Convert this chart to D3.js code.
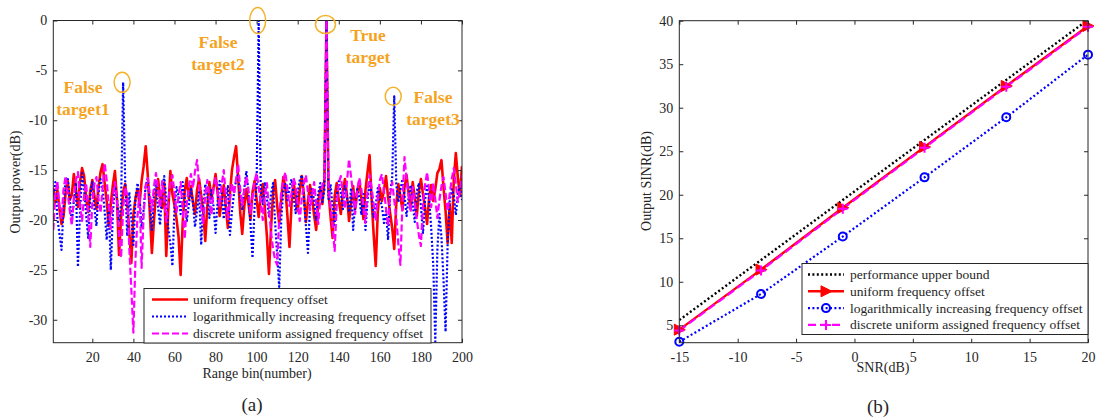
<!DOCTYPE html>
<html>
<head>
<meta charset="utf-8">
<script src="https://cdn.jsdelivr.net/npm/d3@7"></script>
<style>
  body { margin: 0; background: #fff; }
  svg text { font-family: "Liberation Serif", "Times New Roman", serif; fill: #262626; }
</style>
</head>
<body>
<div id="plot"></div>
<script>
// ---- panel (a): output power per range bin ----
const rangeBins = d3.range(1, 201);

const uniformPower = [
  -16.8, -18.2, -17.0, -18.9, -20.4, -19.6, -17.3, -16.1, -18.0, -17.5,
  -15.4, -16.9, -18.7, -16.2, -14.8, -15.6, -17.8, -19.2, -17.1, -16.0,
  -17.6, -18.9, -16.7, -15.2, -14.4, -16.3, -18.1, -20.6, -18.4, -16.5,
  -15.1, -17.9, -23.5, -19.8, -17.2, -16.4, -18.3, -21.2, -24.3, -19.5,
  -17.8, -16.9, -18.4, -16.1, -14.6, -12.6, -15.5, -19.3, -23.3, -20.1,
  -17.4, -15.9, -17.6, -18.8, -16.3, -23.6, -19.0, -15.1, -17.4, -18.5,
  -19.9, -21.7, -25.5, -20.3, -17.1, -15.8, -17.9, -16.6, -18.2, -19.4,
  -17.0, -15.9, -17.5, -19.1, -22.1, -18.6, -16.2, -17.8, -16.8, -15.4,
  -17.3, -19.6, -18.0, -16.5, -18.7, -20.8, -17.4, -15.0, -13.7, -12.6,
  -15.8, -19.2, -21.4, -18.6, -16.9, -18.3, -20.0, -17.2, -16.1, -17.9,
  -19.7, -17.6, -16.4, -18.8, -21.6, -25.4, -20.9, -17.3, -16.0, -18.5,
  -20.3, -17.9, -15.7, -16.8, -19.6, -22.7, -18.4, -16.2, -17.7, -19.1,
  -17.0, -15.6, -17.4, -20.2, -18.1, -16.5, -17.8, -19.5, -21.0, -18.2,
  -16.9, -18.4, -16.0, 0, -17.2, -19.7, -21.8, -17.6, -16.3, -18.0,
  -19.4, -17.1, -15.9, -17.5, -20.1, -18.3, -16.6, -18.9, -17.2, -16.1,
  -17.8, -19.9, -17.0, -15.2, -13.5, -17.9, -21.5, -24.6, -19.2, -16.8,
  -18.1, -17.0, -15.6, -17.7, -19.3, -20.8, -22.9, -18.4, -16.4, -17.6,
  -19.0, -16.8, -15.5, -17.3, -18.9, -16.2, -17.8, -19.6, -17.1, -15.9,
  -17.4, -18.8, -20.4, -17.7, -16.5, -18.1, -16.9, -15.3, -14.9, -14.0,
  -16.7, -19.1, -22.3, -18.4, -22.3, -16.0, -13.3, -15.8, -17.6, -14.6
];

const logPower = [
  -17.5, -16.2, -19.8, -21.4, -23.0, -18.6, -16.0, -15.7, -17.9, -20.3,
  -18.1, -16.4, -24.7, -19.2, -15.3, -17.0, -19.5, -21.8, -17.6, -16.2,
  -18.8, -20.6, -17.3, -15.9, -16.8, -19.1, -22.0, -18.3, -25.0, -19.4,
  -16.6, -17.8, -20.2, -18.4, -6.2, -16.1, -21.6, -17.2, -19.9, -22.5,
  -18.0, -16.3, -17.7, -20.8, -18.9, -16.5, -15.9, -18.2, -21.0, -17.4,
  -16.0, -18.7, -20.5, -17.1, -15.6, -17.9, -20.9, -22.3, -24.6, -18.8,
  -16.7, -17.6, -19.4, -16.2, -17.8, -20.1, -18.5, -16.9, -18.3, -20.7,
  -19.0, -17.2, -22.5, -18.6, -16.4, -17.5, -19.8, -17.0, -18.6, -21.3,
  -18.2, -16.1, -17.4, -19.9, -18.0, -16.6, -21.5, -19.1, -17.3, -16.0,
  -15.4, -17.7, -18.9, -16.8, -15.1, -17.2, -20.4, -23.8, -18.7, -16.5,
  0, -17.0, -18.4, -16.2, -17.9, -19.6, -17.4, -16.3, -20.2, -23.5,
  -26.7, -19.8, -17.1, -16.4, -18.0, -16.8, -15.9, -17.6, -19.3, -17.2,
  -16.0, -15.5, -17.8, -20.6, -23.3, -18.5, -16.7, -18.1, -20.0, -17.4,
  -16.3, -18.2, -17.0, 0, -17.9, -16.4, -18.8, -20.5, -17.6, -16.1,
  -17.3, -18.9, -16.6, -17.7, -19.2, -16.8, -21.0, -18.3, -16.9, -17.8,
  -19.5, -17.2, -21.0, -18.0, -16.2, -17.4, -19.7, -18.5, -16.8, -17.9,
  -18.6, -20.3, -19.1, -22.0, -17.3, -15.8, -7.6, -16.4, -18.2, -17.0,
  -15.9, -17.5, -19.6, -17.8, -16.5, -18.4, -20.2, -17.1, -16.3, -18.7,
  -21.3, -18.0, -16.6, -17.9, -20.8, -24.5, -32.2, -23.0, -19.4, -21.7,
  -26.0, -31.2, -22.4, -18.1, -16.9, -17.6, -19.5, -17.3, -16.5, -18.0
];

const discretePower = [
  -21.0, -17.4, -16.1, -18.6, -19.8, -16.9, -15.6, -17.3, -19.0, -20.5,
  -17.8, -16.0, -15.2, -18.4, -20.1, -17.5, -16.3, -19.6, -22.7, -18.2,
  -16.4, -15.7, -17.9, -19.3, -16.8, -14.3, -16.0, -18.5, -20.9, -17.6,
  -16.2, -18.0, -21.4, -23.8, -18.9, -16.7, -17.5, -22.8, -27.0, -31.3,
  -24.0, -19.6, -17.2, -24.8, -19.4, -16.5, -15.8, -17.4, -19.1, -16.6,
  -15.3, -17.0, -18.8, -16.1, -17.7, -20.2, -18.0, -16.4, -15.5, -17.3,
  -19.2, -17.6, -16.2, -18.9, -21.9, -18.3, -16.7, -15.4, -16.8, -15.1,
  -14.0, -16.5, -18.7, -20.4, -17.5, -16.0, -17.8, -19.5, -16.9, -15.7,
  -17.1, -18.6, -16.4, -15.0, -17.6, -19.9, -18.1, -16.3, -17.4, -15.9,
  -14.4, -16.8, -18.5, -17.0, -15.6, -16.9, -19.3, -17.7, -16.1, -15.3,
  -16.7, -18.2, -20.0, -17.5, -16.3, -18.8, -21.2, -22.9, -24.0, -24.5,
  -19.8, -17.1, -16.0, -15.2, -16.9, -18.6, -17.3, -15.8, -16.5, -18.4,
  -20.1, -17.8, -16.4, -15.5, -17.2, -19.0, -17.6, -16.2, -18.3, -20.4,
  -17.9, -16.5, -15.8, 0, -16.6, -18.7, -20.6, -23.1, -18.5, -16.3,
  -15.6, -17.4, -18.9, -16.1, -13.9, -15.7, -17.5, -19.4, -17.0, -15.8,
  -16.9, -18.6, -20.3, -17.2, -15.5, -16.8, -18.4, -20.1, -17.7, -16.0,
  -15.4, -17.1, -18.8, -20.6, -17.5, -16.2, -18.0, -19.7, -22.4, -24.5,
  -18.3, -13.7, -15.9, -17.6, -19.2, -16.7, -18.1, -20.0, -21.5, -22.6,
  -18.4, -16.5, -15.2, -17.0, -18.7, -16.3, -17.9, -19.8, -18.0, -16.6,
  -15.7, -17.3, -19.1, -17.4, -15.9, -14.8, -16.4, -18.2, -17.0, -15.5
];

const binTicks = [20, 40, 60, 80, 100, 120, 140, 160, 180, 200];
const powerTicks = [0, -5, -10, -15, -20, -25, -30];

// ---- panel (b): output SINR vs SNR ----
const snrValues = [-15, -8, -1, 6, 13, 20];
const upperBound = [5.6, 12.5, 19.4, 26.3, 33.2, 40.1];
const uniformSinr = [4.5, 11.4, 18.5, 25.5, 32.5, 39.4];
const logSinr = [3.1, 8.6, 15.2, 22.0, 28.9, 36.1];
const discreteSinr = [4.4, 11.3, 18.4, 25.4, 32.4, 39.3];

const snrTicks = [-15, -10, -5, 0, 5, 10, 15, 20];
const sinrTicks = [5, 10, 15, 20, 25, 30, 35, 40];

const legendA = [
  "uniform frequency offset",
  "logarithmically increasing frequency offset",
  "discrete uniform assigned frequency offset"
];
const legendB = ["performance upper bound"].concat(legendA);

const ink = "#262626";
const orange = "#f5a31e";
const serif = "Liberation Serif";

const svg = d3.select("#plot")
  .append("svg")
  .attr("width", 1097)
  .attr("height", 420);

function drawFrame(x, y, xTicks, yTicks, id) {
  const [x0, x1] = x.range();
  const [y0, y1] = y.range();

  svg.append("clipPath").attr("id", id)
    .append("rect")
    .attr("x", x0).attr("y", y1)
    .attr("width", x1 - x0).attr("height", y0 - y1);

  const styleAxis = g => {
    g.select(".domain").remove();
    g.attr("font-family", serif).attr("font-size", 14);
    g.selectAll("line").attr("stroke", ink);
    g.selectAll("text").attr("fill", ink);
  };
  const plain = d => String(d);

  svg.append("g")
    .attr("transform", `translate(0,${y0})`)
    .call(d3.axisBottom(x).tickValues(xTicks).tickFormat(plain)
      .tickSizeInner(-4).tickSizeOuter(0).tickPadding(9))
    .call(styleAxis);
  svg.append("g")
    .attr("transform", `translate(0,${y1})`)
    .call(d3.axisTop(x).tickValues(xTicks).tickSizeInner(-4).tickSizeOuter(0).tickFormat(""))
    .call(styleAxis);
  svg.append("g")
    .attr("transform", `translate(${x0},0)`)
    .call(d3.axisLeft(y).tickValues(yTicks).tickFormat(plain)
      .tickSizeInner(-4).tickSizeOuter(0).tickPadding(6))
    .call(styleAxis);
  svg.append("g")
    .attr("transform", `translate(${x1},0)`)
    .call(d3.axisRight(y).tickValues(yTicks).tickSizeInner(-4).tickSizeOuter(0).tickFormat(""))
    .call(styleAxis);

  svg.append("rect")
    .attr("x", x0).attr("y", y1)
    .attr("width", x1 - x0).attr("height", y0 - y1)
    .attr("fill", "none")
    .attr("stroke", ink)
    .attr("stroke-width", 1);
}

// ================= panel (a) =================
const xA = d3.scaleLinear().domain([1, 200]).range([53.3, 462]);
const yA = d3.scaleLinear().domain([-32.3, 0]).range([342.7, 20.5]);

const seriesA = [
  {values: uniformPower, color: "#ff0000", width: 2.6, dash: null},
  {values: logPower, color: "#0000ff", width: 2.2, dash: "2,2"},
  {values: discretePower, color: "#ff00ff", width: 2.2, dash: "7,3"}
];

const lineA = d3.line()
  .x((d, i) => xA(rangeBins[i]))
  .y(d => yA(d));

const plotA = svg.append("g").attr("clip-path", "url(#clipA)");
seriesA.forEach(s => {
  plotA.append("path")
    .datum(s.values)
    .attr("d", lineA)
    .attr("fill", "none")
    .attr("stroke", s.color)
    .attr("stroke-width", s.width)
    .attr("stroke-dasharray", s.dash)
    .attr("stroke-linejoin", "round");
});

drawFrame(xA, yA, binTicks, powerTicks, "clipA");

// annotations
const circlesA = [
  {bin: 35, db: -6.2, rx: 8, ry: 10},
  {bin: 101, db: 0, rx: 8, ry: 13},
  {bin: 134, db: -0.4, rx: 10, ry: 9},
  {bin: 167, db: -7.6, rx: 8, ry: 9}
];
svg.selectAll(".target-ring")
  .data(circlesA)
  .enter().append("ellipse")
  .attr("class", "target-ring")
  .attr("cx", d => xA(d.bin) - 1)
  .attr("cy", d => yA(d.db))
  .attr("rx", d => d.rx)
  .attr("ry", d => d.ry)
  .attr("fill", "none")
  .attr("stroke", "#f4b32c")
  .attr("stroke-width", 1.5);

const notes = [
  {lines: ["False", "target1"], x: 83, y: 93},
  {lines: ["False", "target2"], x: 218, y: 48},
  {lines: ["True", "target"], x: 368, y: 41},
  {lines: ["False", "target3"], x: 433, y: 103}
];
notes.forEach(n => {
  const t = svg.append("text")
    .attr("text-anchor", "middle")
    .attr("font-weight", "bold")
    .attr("font-size", 17.5)
    .style("fill", orange);
  n.lines.forEach((l, i) => {
    t.append("tspan").attr("x", n.x).attr("y", n.y + i * 22).text(l);
  });
});

// legend (a)
const legA = svg.append("g");
legA.append("rect")
  .attr("x", 144).attr("y", 288.5)
  .attr("width", 287).attr("height", 54.5)
  .attr("fill", "#fff").attr("stroke", ink).attr("stroke-width", 1);
seriesA.forEach((s, i) => {
  const yy = 299.5 + i * 17;
  legA.append("line")
    .attr("x1", 152).attr("x2", 188).attr("y1", yy).attr("y2", yy)
    .attr("stroke", s.color).attr("stroke-width", s.width)
    .attr("stroke-dasharray", s.dash);
  legA.append("text")
    .attr("x", 193).attr("y", yy + 4.5)
    .attr("font-size", 13.5)
    .text(legendA[i]);
});

svg.append("text")
  .attr("x", 257).attr("y", 378)
  .attr("text-anchor", "middle").attr("font-size", 14)
  .text("Range bin(number)");
svg.append("text")
  .attr("transform", "translate(20,182) rotate(-90)")
  .attr("text-anchor", "middle").attr("font-size", 14)
  .text("Output power(dB)");
svg.append("text")
  .attr("x", 252).attr("y", 411)
  .attr("text-anchor", "middle").attr("font-size", 19)
  .text("(a)");

// ================= panel (b) =================
const xB = d3.scaleLinear().domain([-15, 20]).range([679.3, 1088]);
const yB = d3.scaleLinear().domain([3, 40]).range([342.7, 20.7]);

const triRight = "M-5,-5.5L6,0L-5,5.5Z";

const seriesB = [
  {values: upperBound, color: "#000000", width: 2.4, dash: "2,2.4", marker: null},
  {values: uniformSinr, color: "#ff0000", width: 2.4, dash: null, marker: "tri"},
  {values: logSinr, color: "#0000ff", width: 2.2, dash: "2,2.4", marker: "circle"},
  {values: discreteSinr, color: "#ff00ff", width: 2.2, dash: "8,4", marker: "plus"}
];

function drawMarker(g, type, color, cx, cy) {
  if (type === "tri") {
    g.append("path").attr("d", triRight)
      .attr("transform", `translate(${cx},${cy})`)
      .attr("fill", color).attr("stroke", color).attr("stroke-width", 1);
  } else if (type === "circle") {
    g.append("circle").attr("cx", cx).attr("cy", cy).attr("r", 4)
      .attr("fill", "none").attr("stroke", color).attr("stroke-width", 2);
  } else if (type === "plus") {
    g.append("path")
      .attr("d", `M${cx - 5},${cy}H${cx + 5}M${cx},${cy - 5}V${cy + 5}`)
      .attr("stroke", color).attr("stroke-width", 2);
  }
}

const lineB = d3.line()
  .x((d, i) => xB(snrValues[i]))
  .y(d => yB(d));

const plotB = svg.append("g").attr("clip-path", "url(#clipB)");
seriesB.forEach(s => {
  plotB.append("path")
    .datum(s.values)
    .attr("d", lineB)
    .attr("fill", "none")
    .attr("stroke", s.color)
    .attr("stroke-width", s.width)
    .attr("stroke-dasharray", s.dash);
  if (s.marker) {
    s.values.forEach((v, i) => drawMarker(svg, s.marker, s.color, xB(snrValues[i]), yB(v)));
  }
});

drawFrame(xB, yB, snrTicks, sinrTicks, "clipB");

// legend (b)
const legB = svg.append("g");
legB.append("rect")
  .attr("x", 802).attr("y", 263.5)
  .attr("width", 286).attr("height", 71)
  .attr("fill", "#fff").attr("stroke", ink).attr("stroke-width", 1);
seriesB.forEach((s, i) => {
  const yy = 274.5 + i * 16.8;
  legB.append("line")
    .attr("x1", 808).attr("x2", 844).attr("y1", yy).attr("y2", yy)
    .attr("stroke", s.color).attr("stroke-width", s.width)
    .attr("stroke-dasharray", s.dash);
  if (s.marker) drawMarker(legB, s.marker, s.color, 826, yy);
  legB.append("text")
    .attr("x", 850).attr("y", yy + 4.5)
    .attr("font-size", 13.5)
    .text(legendB[i]);
});

svg.append("text")
  .attr("x", 883).attr("y", 372)
  .attr("text-anchor", "middle").attr("font-size", 14)
  .text("SNR(dB)");
svg.append("text")
  .attr("transform", "translate(651,181) rotate(-90)")
  .attr("text-anchor", "middle").attr("font-size", 14)
  .text("Output SINR(dB)");
svg.append("text")
  .attr("x", 878).attr("y", 413)
  .attr("text-anchor", "middle").attr("font-size", 19)
  .text("(b)");
</script>
</body>
</html>
